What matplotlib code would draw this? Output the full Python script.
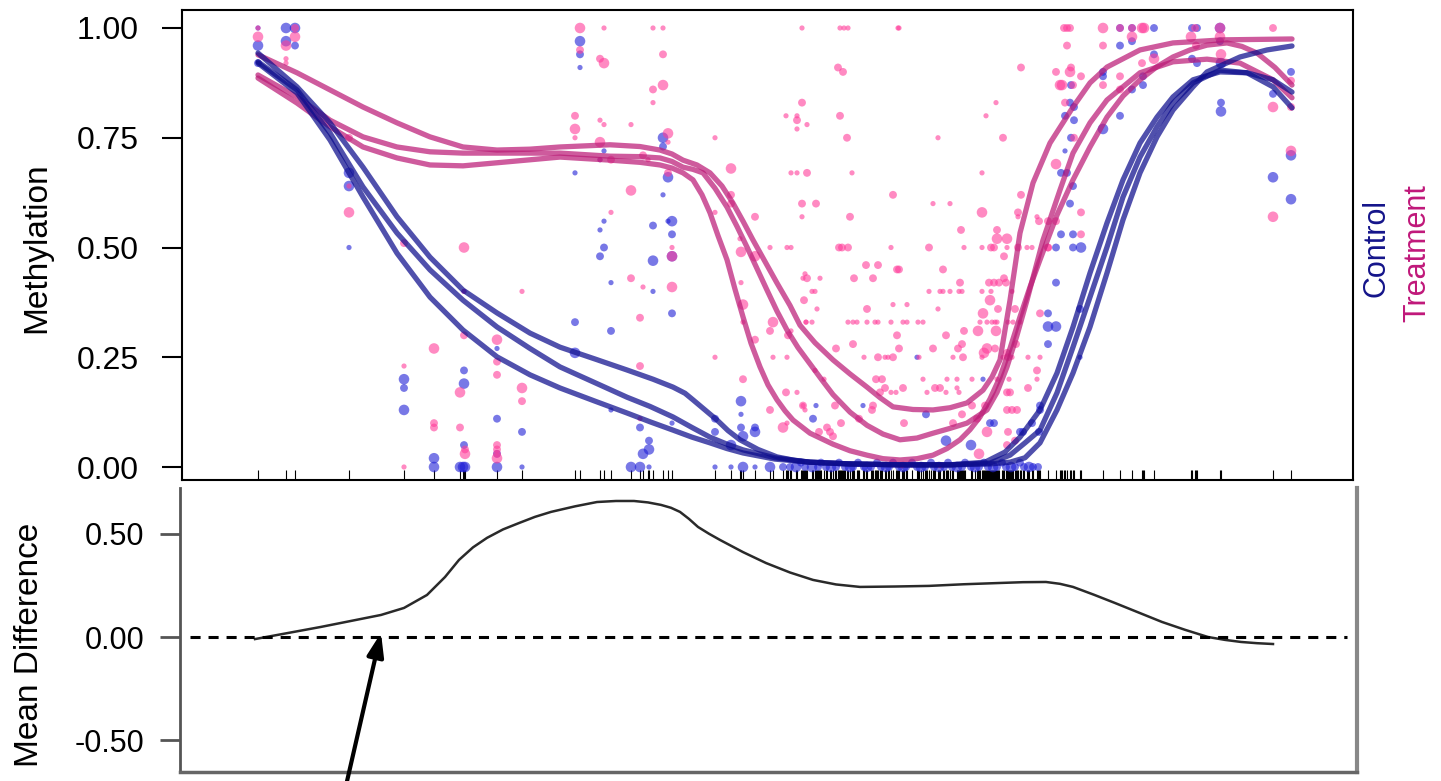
import numpy as np
import matplotlib.pyplot as plt

plt.rcParams['font.family'] = ['Liberation Sans', 'DejaVu Sans']

# CpG sites: (position, methylation, coverage class)
pink_sites_left = [
    (258, 1.00, 1), (258, 0.98, 3), (286, 0.96, 3), (286, 0.93, 1), (286, 0.92, 1), (295, 1.00, 2), (295, 0.98, 3),
    (349, 0.75, 2), (349, 0.64, 1), (349, 0.58, 3),
    (404, 0.51, 2), (404, 0.23, 1), (404, 0.00, 1),
    (434, 0.27, 3), (434, 0.10, 2), (434, 0.09, 2),
    (464, 0.50, 3), (464, 0.40, 1), (464, 0.30, 2), (460, 0.17, 3), (460, 0.09, 2), (465, 0.04, 2), (465, 0.03, 3),
    (497, 0.29, 3), (497, 0.24, 2), (497, 0.21, 2), (497, 0.05, 2), (497, 0.04, 2), (497, 0.03, 2), (497, 0.02, 3),
    (522, 0.40, 1), (522, 0.18, 3), (522, 0.15, 2),
]
pink_sites_mid = [
    (580, 1.00, 3), (580, 0.95, 2), (575, 0.80, 2), (575, 0.77, 3), (575, 0.75, 1),
    (604, 1.00, 1), (600, 0.93, 2), (604, 0.92, 3), (600, 0.79, 1), (604, 0.78, 1), (600, 0.74, 3), (600, 0.70, 1),
    (611, 0.70, 2), (611, 0.58, 1),
    (631, 0.78, 1), (631, 0.63, 3), (631, 0.43, 2),
    (640, 0.34, 2), (640, 0.23, 2), (640, 0.11, 1), (643, 0.41, 1), (653, 1.00, 1), (653, 0.86, 2), (653, 0.83, 1),
    (643, 0.71, 2), (648, 0.70, 1),
    (663, 1.00, 1), (663, 0.94, 2), (663, 0.87, 3), (668, 0.76, 3), (668, 0.74, 1), (672, 0.50, 1), (672, 0.48, 3),
    (672, 0.41, 3), (668, 0.67, 2),
    (715, 0.75, 1), (715, 0.58, 1), (715, 0.25, 1),
    (731, 0.68, 3), (731, 0.62, 2), (731, 0.60, 2),
    (740, 0.52, 1), (741, 0.49, 3), (741, 0.42, 1), (743, 0.37, 3), (743, 0.33, 1), (743, 0.20, 2),
    (755, 0.57, 2), (755, 0.48, 3), (755, 0.29, 2),
    (770, 0.50, 1), (770, 0.31, 2), (773, 0.33, 3), (773, 0.25, 1), (770, 0.13, 2), (783, 0.09, 3), (787, 0.10, 1),
    (786, 0.17, 2), (787, 0.25, 1), (788, 0.30, 2), (791, 0.31, 1), (787, 0.50, 1), (791, 0.50, 1),
    (786, 0.80, 1), (797, 0.80, 1), (797, 0.79, 2), (797, 0.77, 1), (802, 1.00, 1), (802, 0.83, 2), (807, 0.78, 1),
    (791, 0.67, 1), (797, 0.67, 1), (807, 0.67, 2), (802, 0.60, 2), (802, 0.57, 1), (805, 0.44, 1), (803, 0.43, 1),
    (807, 0.43, 2), (804, 0.38, 2), (806, 0.33, 1), (797, 0.17, 1), (803, 0.14, 1), (805, 0.13, 1),
]
pink_sites_dense = [
    (840, 1.00, 1), (844, 1.00, 1), (848, 1.00, 1), (898, 1.00, 1), (899, 1.00, 1),
    (838, 0.91, 2), (843, 0.90, 2), (840, 0.80, 2), (847, 0.75, 2), (852, 0.67, 1), (816, 0.60, 2), (850, 0.57, 2),
    (893, 0.62, 2), (938, 0.75, 1), (1003, 0.75, 2), (1021, 0.91, 2), (1056, 0.90, 2), (1060, 0.87, 3),
    (996, 0.83, 1), (986, 0.80, 1), (982, 0.67, 1), (1056, 0.69, 3), (933, 0.60, 1), (950, 0.60, 1), (982, 0.58, 3),
    (1021, 0.62, 2), (1018, 0.58, 2), (1018, 0.57, 1), (1037, 0.57, 1), (1039, 0.56, 2), (1048, 0.56, 2),
    (1056, 0.56, 2), (997, 0.54, 2), (961, 0.54, 2), (997, 0.52, 3), (1007, 0.52, 3),
    (839, 0.50, 2), (842, 0.50, 2), (848, 0.50, 2), (891, 0.50, 1), (929, 0.50, 2), (964, 0.50, 1), (982, 0.50, 1),
    (991, 0.50, 2), (994, 0.50, 2), (1007, 0.50, 1), (1018, 0.50, 2), (1027, 0.50, 1), (1032, 0.50, 1),
    (1048, 0.50, 2),
    (1004, 0.48, 2), (866, 0.46, 2), (878, 0.46, 2), (897, 0.45, 2), (899, 0.45, 2), (943, 0.45, 2), (820, 0.43, 1),
    (854, 0.43, 2), (873, 0.43, 2), (960, 0.42, 2), (989, 0.42, 2), (994, 0.42, 2), (999, 0.42, 2), (1004, 0.43, 2),
    (1006, 0.42, 2),
    (812, 0.40, 1), (815, 0.40, 1), (929, 0.40, 1), (940, 0.40, 1), (943, 0.40, 1), (950, 0.40, 1), (959, 0.40, 1),
    (962, 0.40, 1), (982, 0.40, 1), (991, 0.40, 1), (1012, 0.40, 1),
    (990, 0.38, 3), (893, 0.37, 1), (907, 0.37, 1), (817, 0.36, 1), (938, 0.36, 1), (998, 0.36, 2), (1015, 0.36, 2),
    (867, 0.36, 2),
    (806, 0.33, 1), (812, 0.33, 1), (848, 0.33, 1), (853, 0.33, 1), (857, 0.33, 1), (867, 0.33, 1), (875, 0.33, 1),
    (878, 0.33, 1), (891, 0.33, 1), (903, 0.33, 1), (907, 0.33, 1), (918, 0.33, 1), (923, 0.33, 1), (980, 0.33, 1),
    (987, 0.33, 1), (992, 0.33, 1), (995, 0.33, 1), (997, 0.33, 1), (1008, 0.33, 1), (1013, 0.33, 1),
    (1020, 0.33, 1),
    (983, 0.35, 3), (978, 0.31, 3), (964, 0.31, 2), (996, 0.31, 3), (897, 0.30, 2), (946, 0.30, 2), (1016, 0.28, 2),
    (853, 0.28, 2), (962, 0.28, 2), (899, 0.27, 2), (933, 0.27, 2), (958, 0.27, 2), (987, 0.27, 3), (995, 0.27, 2),
    (836, 0.27, 2), (984, 0.26, 3), (1007, 0.26, 2),
    (864, 0.25, 1), (878, 0.25, 2), (885, 0.25, 1), (888, 0.25, 1), (893, 0.25, 2), (919, 0.25, 1), (953, 0.25, 1),
    (963, 0.25, 2), (982, 0.25, 1), (1003, 0.25, 1), (1008, 0.25, 2), (1012, 0.25, 1), (1028, 0.25, 1),
    (1040, 0.25, 1),
    (1037, 0.22, 2), (815, 0.22, 1), (824, 0.20, 1), (876, 0.20, 2), (882, 0.20, 2), (923, 0.20, 1), (947, 0.20, 1),
    (957, 0.20, 1), (972, 0.20, 1), (997, 0.20, 1), (1009, 0.20, 1), (1037, 0.20, 1), (885, 0.18, 2), (903, 0.18, 2),
    (935, 0.18, 2), (940, 0.18, 2), (957, 0.18, 1), (1028, 0.18, 2), (880, 0.17, 2), (891, 0.17, 1), (896, 0.17, 1),
    (927, 0.17, 1), (946, 0.17, 1), (959, 0.17, 1), (1007, 0.17, 2), (1010, 0.17, 2),
    (803, 0.14, 2), (835, 0.14, 2), (873, 0.14, 2), (872, 0.13, 2), (962, 0.12, 2), (972, 0.14, 2), (985, 0.14, 2),
    (1007, 0.13, 2), (1012, 0.13, 2), (1017, 0.13, 2), (859, 0.11, 2), (841, 0.10, 2), (904, 0.10, 2),
    (953, 0.10, 2), (977, 0.11, 2), (827, 0.09, 2), (830, 0.08, 2), (833, 0.07, 2), (819, 0.08, 2), (987, 0.08, 3),
    (1008, 0.08, 2), (979, 0.03, 3), (1007, 0.05, 2), (1015, 0.06, 2),
    (893, 0.005, 1), (898, 0.005, 1), (902, 0.003, 1), (912, 0.005, 1), (940, 0.003, 1),
]
pink_sites_right = [
    (1064, 1.00, 2), (1067, 1.00, 2), (1070, 1.00, 2), (1103, 1.00, 3), (1120, 1.00, 2), (1132, 1.00, 2),
    (1142, 1.00, 3), (1144, 1.00, 3), (1195, 1.00, 2), (1220, 1.00, 3), (1273, 1.00, 2),
    (1067, 0.96, 2), (1103, 0.96, 2), (1132, 0.98, 3), (1191, 0.98, 3), (1196, 0.96, 2), (1220, 0.98, 3),
    (1221, 0.94, 3), (1142, 0.92, 2), (1154, 0.93, 3),
    (1071, 0.91, 2), (1070, 0.90, 3), (1081, 0.89, 2), (1120, 0.89, 2), (1062, 0.87, 3), (1073, 0.87, 2),
    (1103, 0.87, 2), (1120, 0.86, 2), (1065, 0.83, 2), (1074, 0.75, 2), (1081, 0.58, 2), (1081, 0.53, 2),
    (1048, 0.50, 2), (1040, 0.35, 2),
    (1273, 0.82, 3), (1291, 0.88, 2), (1291, 0.82, 2), (1291, 0.72, 3), (1273, 0.57, 3),
]

blue_sites_left = [
    (258, 1.00, 1), (258, 0.96, 3), (258, 0.92, 2), (286, 1.00, 3), (286, 0.97, 3), (295, 1.00, 3), (295, 0.96, 2),
    (349, 0.67, 3), (349, 0.64, 3), (349, 0.50, 1),
    (404, 0.20, 3), (404, 0.18, 2), (404, 0.13, 3),
    (434, 0.02, 3), (434, 0.00, 3),
    (464, 0.40, 1), (464, 0.22, 2), (464, 0.19, 3), (464, 0.05, 2), (460, 0.00, 3), (463, 0.00, 3), (465, 0.00, 3),
    (497, 0.27, 1), (497, 0.11, 2), (497, 0.03, 2), (497, 0.00, 3),
    (522, 0.08, 2), (522, 0.00, 1),
]
blue_sites_mid = [
    (580, 0.97, 3), (580, 0.94, 2), (580, 0.91, 1), (575, 0.67, 1), (575, 0.33, 2), (575, 0.26, 3),
    (604, 0.72, 1), (600, 0.70, 1), (604, 0.56, 1), (600, 0.54, 1), (604, 0.50, 2), (600, 0.48, 2), (611, 0.42, 1),
    (611, 0.31, 2), (611, 0.13, 1),
    (640, 0.09, 2), (649, 0.06, 2), (643, 0.03, 3), (649, 0.04, 3), (631, 0.00, 3), (640, 0.00, 3), (649, 0.00, 1),
    (653, 0.55, 2), (653, 0.47, 3), (653, 0.40, 1),
    (663, 0.75, 3), (663, 0.73, 2), (663, 0.62, 1), (668, 0.66, 3), (672, 0.56, 3), (668, 0.56, 1), (672, 0.53, 2),
    (672, 0.48, 3), (672, 0.35, 2), (672, 0.10, 1),
    (715, 0.11, 2), (715, 0.08, 2), (715, 0.00, 1),
    (731, 0.05, 3), (731, 0.00, 1),
    (741, 0.15, 3), (741, 0.12, 1), (741, 0.09, 2), (743, 0.07, 3), (743, 0.00, 3),
    (755, 0.09, 2), (755, 0.08, 3), (755, 0.00, 1),
    (770, 0.00, 3), (783, 0.00, 2),
]
blue_sites_dense = [
    (917, 0.25, 1), (983, 0.20, 1), (816, 0.14, 1), (863, 0.14, 1), (926, 0.12, 2), (1040, 0.14, 2), (813, 0.11, 2),
    (990, 0.10, 2), (994, 0.10, 2), (1032, 0.10, 2), (1020, 0.08, 2), (1039, 0.08, 2), (946, 0.06, 3),
    (971, 0.05, 3), (1023, 0.08, 2),
    (1048, 0.35, 2), (1056, 0.42, 2), (1056, 0.32, 3), (1048, 0.32, 3), (1048, 0.28, 2),
    (790, 0.00, 2), (796, 0.00, 3), (801, 0.01, 2), (805, 0.00, 2), (812, 0.00, 3), (818, 0.00, 2), (821, 0.01, 2),
    (826, 0.00, 2), (831, 0.00, 3), (836, 0.00, 2), (839, 0.01, 2), (845, 0.00, 2), (850, 0.00, 3), (853, 0.00, 2),
    (858, 0.01, 2), (864, 0.00, 2), (867, 0.00, 3), (871, 0.00, 2), (877, 0.01, 2), (881, 0.00, 2), (886, 0.00, 3),
    (889, 0.00, 2), (893, 0.01, 2), (899, 0.00, 2), (903, 0.00, 3), (906, 0.00, 2), (912, 0.01, 2), (917, 0.00, 2),
    (921, 0.00, 3), (925, 0.00, 2), (931, 0.01, 2), (934, 0.00, 2), (939, 0.00, 3), (944, 0.00, 2), (948, 0.01, 2),
    (952, 0.00, 2), (957, 0.00, 3), (962, 0.00, 2), (965, 0.01, 2), (971, 0.00, 2), (975, 0.00, 3), (979, 0.00, 2),
    (984, 0.01, 2), (988, 0.00, 2), (993, 0.00, 3), (997, 0.00, 2), (1002, 0.01, 2), (1006, 0.00, 2),
    (1011, 0.00, 3), (1015, 0.00, 2), (1020, 0.01, 2), (1024, 0.00, 2), (1029, 0.00, 3), (1033, 0.00, 2),
    (1038, 0.00, 2),
]
blue_sites_right = [
    (1154, 1.00, 2), (1192, 1.00, 2), (1197, 1.00, 2), (1220, 1.00, 3), (1120, 1.00, 2), (1132, 1.00, 2),
    (1132, 0.97, 2), (1120, 0.96, 2), (1220, 0.97, 2), (1154, 0.94, 2), (1192, 0.93, 2), (1197, 0.92, 2),
    (1221, 0.92, 3), (1103, 0.90, 2), (1103, 0.89, 2), (1143, 0.89, 2), (1071, 0.87, 2), (1132, 0.86, 2),
    (1143, 0.87, 2), (1070, 0.83, 2), (1074, 0.82, 2), (1065, 0.80, 2), (1120, 0.80, 2), (1074, 0.79, 2),
    (1103, 0.77, 3), (1071, 0.75, 2), (1065, 0.72, 1), (1061, 0.67, 2), (1067, 0.67, 2), (1073, 0.64, 2),
    (1070, 0.60, 2), (1073, 0.53, 2), (1061, 0.53, 2), (1056, 0.50, 2), (1073, 0.50, 2), (1081, 0.50, 3),
    (1080, 0.36, 2), (1080, 0.25, 1), (1040, 0.13, 2),
    (1221, 0.83, 2), (1221, 0.81, 3), (1273, 0.85, 2), (1291, 0.90, 2), (1291, 0.71, 3), (1273, 0.66, 3),
    (1291, 0.61, 3),
]

# smoothed methylation per sample
control_fits = [
    [(258, 0.943), (297, 0.866), (330, 0.784), (363, 0.683), (397, 0.570), (430, 0.478), (463, 0.403), (497, 0.351),
     (530, 0.305), (560, 0.273), (595, 0.246), (627, 0.221), (653, 0.200), (673, 0.182), (685, 0.168), (693, 0.153),
     (705, 0.130), (717, 0.107), (728, 0.083), (740, 0.062), (758, 0.040), (777, 0.023), (795, 0.015), (810, 0.011),
     (850, 0.007), (900, 0.005), (950, 0.005), (990, 0.007), (1010, 0.011), (1025, 0.021), (1040, 0.055),
     (1057, 0.130), (1073, 0.214), (1090, 0.319), (1107, 0.442), (1123, 0.563), (1140, 0.670), (1157, 0.752),
     (1173, 0.813), (1193, 0.866), (1207, 0.900), (1240, 0.934), (1267, 0.950), (1292, 0.959)],
    [(258, 0.923), (297, 0.859), (330, 0.761), (363, 0.638), (397, 0.533), (430, 0.449), (463, 0.380), (497, 0.319),
     (530, 0.270), (560, 0.228), (595, 0.192), (627, 0.159), (650, 0.138), (673, 0.114), (692, 0.090), (710, 0.068),
     (727, 0.052), (743, 0.039), (775, 0.021), (810, 0.011), (850, 0.007), (900, 0.005), (950, 0.005), (990, 0.009),
     (1010, 0.027), (1025, 0.055), (1040, 0.084), (1057, 0.169), (1073, 0.273), (1090, 0.387), (1107, 0.501),
     (1123, 0.615), (1140, 0.706), (1157, 0.775), (1173, 0.829), (1193, 0.875), (1220, 0.904), (1247, 0.898),
     (1273, 0.882), (1292, 0.854)],
    [(258, 0.920), (297, 0.852), (330, 0.745), (363, 0.615), (397, 0.487), (430, 0.387), (463, 0.312), (497, 0.251),
     (530, 0.210), (560, 0.180), (595, 0.150), (627, 0.123), (650, 0.103), (673, 0.084), (692, 0.068), (710, 0.055),
     (727, 0.042), (743, 0.032), (775, 0.018), (810, 0.011), (850, 0.007), (900, 0.005), (950, 0.005), (985, 0.011),
     (1005, 0.034), (1020, 0.068), (1040, 0.130), (1057, 0.214), (1073, 0.319), (1090, 0.442), (1107, 0.556),
     (1123, 0.654), (1140, 0.738), (1157, 0.797), (1173, 0.843), (1193, 0.882), (1220, 0.900), (1247, 0.898),
     (1273, 0.866), (1292, 0.818)],
]
treatment_fits = [
    [(258, 0.939), (297, 0.898), (330, 0.859), (363, 0.820), (397, 0.784), (430, 0.752), (463, 0.729), (497, 0.722),
     (530, 0.724), (560, 0.729), (610, 0.734), (640, 0.730), (660, 0.722), (672, 0.713), (683, 0.699), (697, 0.688),
     (710, 0.670), (722, 0.640), (733, 0.601), (743, 0.560), (753, 0.517), (765, 0.468), (777, 0.419), (790, 0.368),
     (800, 0.323), (815, 0.283), (833, 0.244), (850, 0.212), (867, 0.182), (880, 0.158), (893, 0.137), (913, 0.131),
     (933, 0.130), (950, 0.135), (967, 0.146), (983, 0.175), (992, 0.205), (1000, 0.244), (1010, 0.380),
     (1020, 0.533), (1033, 0.647), (1050, 0.738), (1073, 0.820), (1090, 0.875), (1107, 0.911), (1140, 0.950),
     (1173, 0.966), (1223, 0.973), (1292, 0.975)],
    [(258, 0.893), (297, 0.843), (330, 0.790), (363, 0.752), (397, 0.729), (430, 0.718), (463, 0.715), (497, 0.715),
     (560, 0.715), (610, 0.708), (640, 0.707), (660, 0.704), (672, 0.696), (683, 0.683), (693, 0.678), (703, 0.670),
     (715, 0.635), (727, 0.592), (737, 0.548), (747, 0.501), (757, 0.452), (767, 0.403), (777, 0.355), (787, 0.312),
     (798, 0.272), (810, 0.235), (822, 0.198), (833, 0.165), (850, 0.125), (867, 0.095), (883, 0.075), (900, 0.062),
     (917, 0.066), (933, 0.077), (950, 0.088), (967, 0.100), (987, 0.130), (997, 0.170), (1007, 0.228),
     (1017, 0.300), (1027, 0.380), (1043, 0.517), (1060, 0.631), (1073, 0.715), (1090, 0.784), (1107, 0.836),
     (1140, 0.898), (1173, 0.923), (1207, 0.929), (1240, 0.920), (1273, 0.882), (1292, 0.841)],
    [(258, 0.886), (297, 0.829), (330, 0.775), (363, 0.729), (397, 0.704), (430, 0.688), (463, 0.686), (497, 0.693),
     (560, 0.706), (610, 0.699), (640, 0.694), (660, 0.688), (672, 0.681), (683, 0.670), (693, 0.654), (702, 0.620),
     (710, 0.579), (718, 0.527), (727, 0.472), (735, 0.405), (743, 0.342), (751, 0.282), (760, 0.228), (768, 0.187),
     (777, 0.153), (785, 0.128), (793, 0.107), (810, 0.077), (833, 0.052), (850, 0.037), (867, 0.027), (883, 0.019),
     (900, 0.016), (917, 0.019), (933, 0.027), (947, 0.042), (960, 0.062), (970, 0.085), (980, 0.114), (990, 0.155),
     (1000, 0.205), (1010, 0.270), (1020, 0.342), (1030, 0.410), (1040, 0.472), (1057, 0.574), (1073, 0.654),
     (1090, 0.729), (1107, 0.797), (1123, 0.845), (1140, 0.882), (1157, 0.912), (1173, 0.934), (1190, 0.950),
     (1207, 0.961), (1227, 0.966), (1242, 0.958), (1257, 0.943), (1275, 0.910), (1292, 0.870)],
]

mean_diff_pos = [255, 321, 381, 404, 427, 445, 459, 473, 487, 503, 519, 535, 551, 575, 597, 616, 634, 648, 661, 671,
                 680, 689, 698, 709, 720, 743, 766, 790, 813, 836, 860, 895, 929, 964, 999, 1023, 1046, 1060, 1073,
                 1094, 1115, 1139, 1162, 1185, 1208, 1225, 1241, 1257, 1273]
mean_diff_val = [-0.01, 0.049, 0.107, 0.141, 0.204, 0.291, 0.374, 0.435, 0.481, 0.522, 0.553, 0.583, 0.607, 0.634,
                 0.655, 0.660, 0.660, 0.653, 0.641, 0.627, 0.607, 0.573, 0.534, 0.501, 0.471, 0.412, 0.359, 0.313,
                 0.277, 0.255, 0.243, 0.245, 0.248, 0.256, 0.262, 0.266, 0.267, 0.258, 0.243, 0.205, 0.165, 0.118,
                 0.073, 0.035, 0.0, -0.014, -0.024, -0.030, -0.034]

meth_ticks = [0, 0.25, 0.5, 0.75, 1.0]
meth_labels = ['0.00', '0.25', '0.50', '0.75', '1.00']
diff_ticks = [-0.5, 0.0, 0.5]
diff_labels = ['-0.50', '0.00', '0.50']

size_of = {1: 14, 2: 32, 3: 58}
pink_pt = '#ff3d9a'
blue_pt = '#1f1fd6'
pink_line = '#bb1c77'
blue_line = '#0d0d8d'


def unpack(sites):
    arr = np.array(sites, dtype=float)
    return arr[:, 0], arr[:, 1], np.array([size_of[int(c)] for c in arr[:, 2]])


W, H = 1441, 781
fig = plt.figure(figsize=(W / 100, H / 100), dpi=100)
ax = fig.add_axes([182 / W, 1 - 480 / H, (1353 - 182) / W, 470 / H])
ax2 = fig.add_axes([180 / W, 1 - 772 / H, (1357 - 180) / W, 284 / H])

all_pos = []
for group, col in [(blue_sites_left + blue_sites_mid + blue_sites_dense + blue_sites_right, blue_pt),
                   (pink_sites_left + pink_sites_mid + pink_sites_dense + pink_sites_right, pink_pt)]:
    x, y, s = unpack(group)
    all_pos.extend(x)
    ax.scatter(x, y, s=s, color=col, alpha=0.6, edgecolors='none', zorder=2)

for fit in treatment_fits:
    f = np.array(fit)
    ax.plot(f[:, 0], f[:, 1], color=pink_line, lw=3.8, alpha=0.72, solid_capstyle='round',
            solid_joinstyle='round', zorder=3)
for fit in control_fits:
    f = np.array(fit)
    ax.plot(f[:, 0], f[:, 1], color=blue_line, lw=3.8, alpha=0.72, solid_capstyle='round',
            solid_joinstyle='round', zorder=3)

rug = np.unique(np.array(all_pos))
ax.vlines(rug, -0.0296, -0.0068, color='black', lw=0.8, zorder=1)

ax.set_xlim(182, 1353)
ax.set_ylim(-0.0296, 1.041)
ax.set_yticks(meth_ticks)
ax.set_yticklabels(meth_labels, fontsize=23)
ax.tick_params(axis='y', length=14.4, width=1.5, pad=17)
ax.tick_params(axis='x', bottom=False, labelbottom=False)
for sp in ax.spines.values():
    sp.set_linewidth(1.5)

# mean difference panel
ax2.plot(mean_diff_pos, mean_diff_val, color='#2a2a2a', lw=1.8, solid_joinstyle='round')
ax2.hlines(0, 190, 1347, color='black', lw=2.2, linestyles=(0, (3.3, 2.6)))
ax2.set_xlim(180, 1357)
ax2.set_ylim(-0.655, 0.723)
ax2.set_yticks(diff_ticks)
ax2.set_yticklabels(diff_labels, fontsize=22)
ax2.tick_params(axis='y', length=14.4, width=2, color='#555555', pad=11)
ax2.tick_params(axis='x', bottom=False, labelbottom=False)
ax2.spines['top'].set_visible(False)
ax2.spines['left'].set_color('#555555')
ax2.spines['left'].set_linewidth(2)
ax2.spines['bottom'].set_color('#666666')
ax2.spines['bottom'].set_linewidth(2.5)
ax2.spines['right'].set_color('#888888')
ax2.spines['right'].set_linewidth(3)

ax2.annotate('', xy=(381, 0.02), xytext=(347, -0.70),
             arrowprops=dict(arrowstyle='-|>,head_length=0.7,head_width=0.25', lw=3, color='black',
                             mutation_scale=20, shrinkA=0, shrinkB=0),
             annotation_clip=False)

fig.text(37 / W, 1 - 248 / H, 'Methylation', rotation=90, fontsize=24, ha='center', va='center')
fig.text(30 / W, 1 - 645 / H, 'Mean Difference', rotation=90, fontsize=24, ha='center', va='center')
fig.text(1376 / W, 1 - 248 / H, 'Control', rotation=90, fontsize=22, color='#14148a', ha='center', va='center')
fig.text(1417 / W, 1 - 253 / H, 'Treatment', rotation=90, fontsize=22, color='#c0187a', ha='center', va='center')

fig.savefig('out.png', dpi=100)
